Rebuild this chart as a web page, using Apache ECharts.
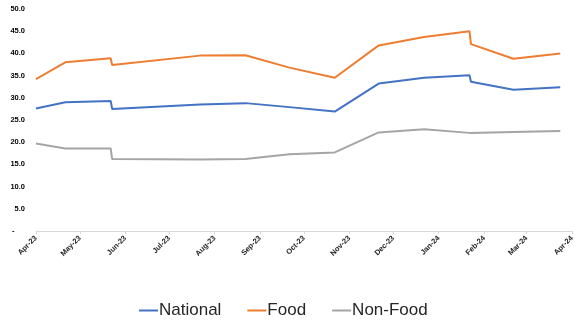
<!DOCTYPE html>
<html>
<head>
<meta charset="utf-8">
<script src="https://cdn.jsdelivr.net/npm/echarts@6/dist/echarts.min.js"></script>
<style>
  html, body { margin: 0; padding: 0; background: #fff; }
  #chart { width: 584px; height: 324px; }
</style>
</head>
<body>
<div id="chart"></div>
<script>
// Observation dates (monthly readings, two readings around each rebasing)
const dates = [
  '2023-04-01', '2023-04-21', '2023-05-22', '2023-05-23', '2023-07-22',
  '2023-08-22', '2023-09-21', '2023-10-22', '2023-11-21', '2023-12-22',
  '2024-01-22', '2024-01-23', '2024-02-21', '2024-03-24'
];
const national = [27.6, 29.0, 29.3, 27.5, 28.5, 28.8, 27.9, 26.9, 33.2, 34.5, 35.1, 33.6, 31.8, 32.4];
const food     = [34.2, 38.0, 38.9, 37.4, 39.5, 39.6, 36.8, 34.5, 41.8, 43.7, 45.0, 42.1, 38.8, 40.0];
const nonFood  = [19.7, 18.6, 18.6, 16.2, 16.1, 16.2, 17.3, 17.7, 22.2, 22.9, 22.1, 22.1, 22.3, 22.5];

// Axis range: first of April 2023 to first of April 2024, monthly ticks
const axisStart = '2023-04-01';
const axisEnd = '2024-04-01';
const monthNames = ['Jan','Feb','Mar','Apr','May','Jun','Jul','Aug','Sep','Oct','Nov','Dec'];

function toTime(s) {
  const p = s.split('-').map(Number);
  return new Date(p[0], p[1] - 1, p[2]).getTime();
}
const pairs = vals => dates.map((d, i) => [toTime(d), vals[i]]);

const chart = echarts.init(document.getElementById('chart'), null, { renderer: 'canvas' });

const lineSeries = (name, vals, color) => ({
  name: name,
  type: 'line',
  data: pairs(vals),
  showSymbol: false,
  symbol: 'none',
  lineStyle: { color: color, width: 2 },
  itemStyle: { color: color },
  emphasis: { disabled: true }
});

chart.setOption({
  animation: false,
  textStyle: { fontFamily: 'Liberation Sans, Arial, sans-serif' },
  grid: { left: 36, right: 12, top: 9, bottom: 93, containLabel: false },
  legend: {
    top: 302,
    left: 139,
    padding: 0,
    icon: 'rect',
    itemWidth: 19,
    itemHeight: 2,
    itemGap: 26,
    textStyle: {
      fontSize: 17,
      color: '#262626',
      padding: [0, 0, 0, -4],
      fontFamily: 'Liberation Sans, Arial, sans-serif'
    },
    data: ['National', 'Food', 'Non-Food']
  },
  xAxis: {
    type: 'time',
    min: toTime(axisStart),
    max: toTime(axisEnd),
    splitNumber: 12,
    axisLine: { show: true, lineStyle: { color: '#d9d9d9', width: 1 } },
    axisTick: { show: true, length: 3, lineStyle: { color: '#d9d9d9' } },
    splitLine: { show: false },
    axisLabel: {
      rotate: 45,
      fontSize: 7.5,
      fontWeight: 'bold',
      color: '#262626',
      margin: 6,
      showMinLabel: true,
      showMaxLabel: true,
      formatter: function (v) {
        const d = new Date(v);
        return monthNames[d.getMonth()] + '-' + String(d.getFullYear()).slice(2);
      }
    }
  },
  yAxis: {
    type: 'value',
    min: 0,
    max: 50,
    interval: 5,
    axisLine: { show: false },
    axisTick: { show: false },
    splitLine: { show: false },
    axisLabel: {
      fontSize: 7.5,
      fontWeight: 'bold',
      color: '#000',
      margin: 11,
      formatter: function (v) { return v === 0 ? '-     ' : v.toFixed(1); }
    }
  },
  series: [
    lineSeries('National', national, '#4472C4'),
    lineSeries('Food', food, '#ED7D31'),
    lineSeries('Non-Food', nonFood, '#A5A5A5')
  ]
});
</script>
</body>
</html>
